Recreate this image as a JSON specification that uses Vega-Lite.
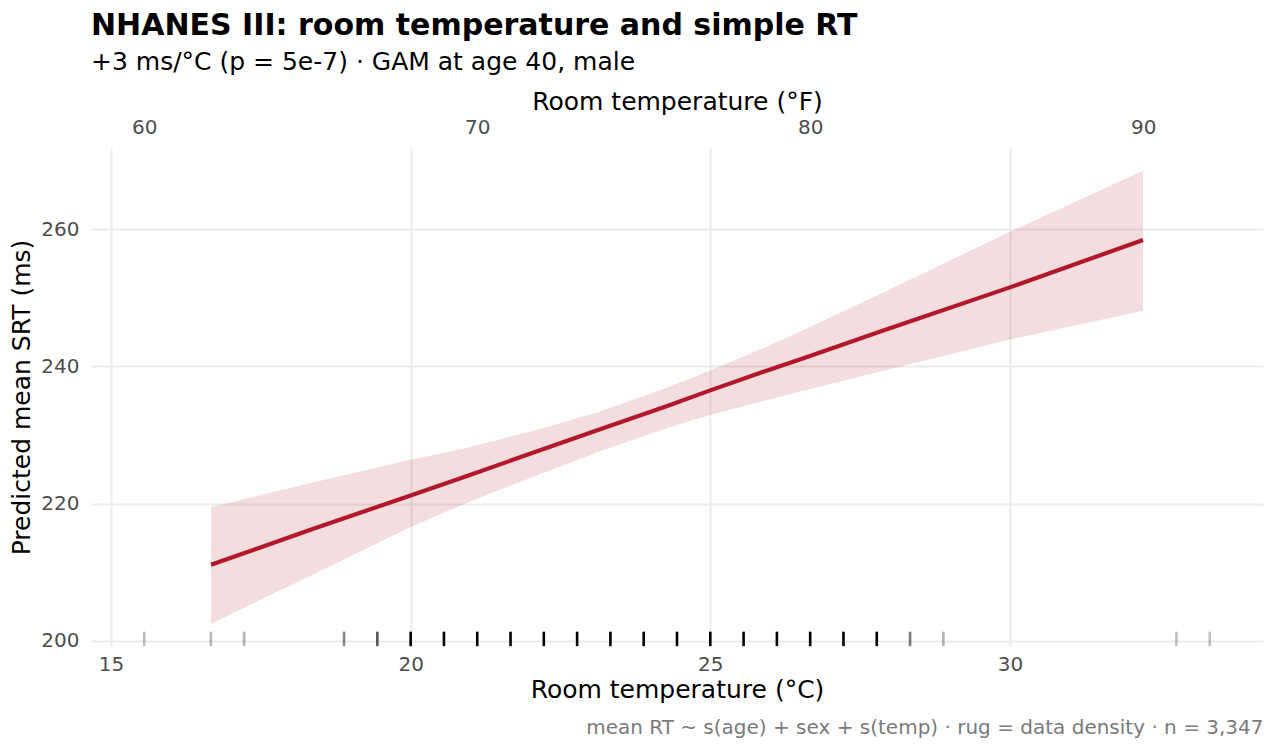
{
  "$schema": "https://vega.github.io/schema/vega-lite/v6.json",
  "background": "white",
  "autosize": "none",
  "width": 1172,
  "height": 498,
  "padding": {"left": 91, "top": 148, "right": 12, "bottom": 104},
  "title": {
    "text": "NHANES III: room temperature and simple RT",
    "subtitle": "+3 ms/°C (p = 5e-7) · GAM at age 40, male",
    "anchor": "start",
    "frame": "group",
    "font": "DejaVu Sans",
    "fontSize": 30,
    "fontWeight": "bold",
    "color": "black",
    "subtitleFont": "DejaVu Sans",
    "subtitleFontSize": 25,
    "subtitleColor": "black",
    "subtitlePadding": 9,
    "offset": 14
  },
  "datasets": {
    "fit": [
      {"C": 16.67, "fit": 211.1, "lo": 202.5, "hi": 219.5},
      {"C": 18.33, "fit": 216.2, "lo": 209.5, "hi": 223.0},
      {"C": 20.0, "fit": 221.2, "lo": 216.6, "hi": 226.4},
      {"C": 20.93, "fit": 224.0, "lo": 220.1, "hi": 228.1},
      {"C": 22.04, "fit": 227.4, "lo": 223.9, "hi": 230.6},
      {"C": 23.15, "fit": 230.8, "lo": 227.6, "hi": 233.4},
      {"C": 24.27, "fit": 234.2, "lo": 231.0, "hi": 236.9},
      {"C": 25.0, "fit": 236.5, "lo": 232.9, "hi": 239.4},
      {"C": 25.95, "fit": 239.4, "lo": 235.1, "hi": 242.9},
      {"C": 26.53, "fit": 241.1, "lo": 236.4, "hi": 245.2},
      {"C": 27.85, "fit": 245.1, "lo": 239.3, "hi": 250.6},
      {"C": 30.0, "fit": 251.5, "lo": 243.9, "hi": 259.6},
      {"C": 32.22, "fit": 258.4, "lo": 248.1, "hi": 268.5}
    ],
    "rug": [
      {"F": 60, "n": 4},
      {"F": 62, "n": 5},
      {"F": 63, "n": 7},
      {"F": 66, "n": 25},
      {"F": 67, "n": 45},
      {"F": 68, "n": 90},
      {"F": 69, "n": 150},
      {"F": 70, "n": 210},
      {"F": 71, "n": 260},
      {"F": 72, "n": 290},
      {"F": 73, "n": 310},
      {"F": 74, "n": 320},
      {"F": 75, "n": 310},
      {"F": 76, "n": 290},
      {"F": 77, "n": 260},
      {"F": 78, "n": 220},
      {"F": 79, "n": 180},
      {"F": 80, "n": 140},
      {"F": 81, "n": 108},
      {"F": 82, "n": 80},
      {"F": 83, "n": 30},
      {"F": 84, "n": 8},
      {"F": 91, "n": 3},
      {"F": 92, "n": 2}
    ]
  },
  "layer": [
    {
      "data": {"name": "fit"},
      "mark": {"type": "area", "color": "#B2182B", "opacity": 0.15},
      "encoding": {
        "x": {
          "field": "C",
          "type": "quantitative",
          "scale": {"domain": [14.667, 34.222], "nice": false, "zero": false},
          "axis": {
            "orient": "bottom",
            "title": "Room temperature (°C)",
            "values": [15, 20, 25, 30],
            "grid": true,
            "labelPadding": 8,
            "titlePadding": 3
          }
        },
        "y": {
          "field": "lo",
          "type": "quantitative",
          "scale": {"domain": [199.27, 271.8], "nice": false, "zero": false},
          "axis": {
            "title": "Predicted mean SRT (ms)",
            "values": [200, 220, 240, 260],
            "grid": true,
            "labelPadding": 12,
            "titlePadding": 6
          }
        },
        "y2": {"field": "hi"}
      }
    },
    {
      "data": {"name": "fit"},
      "mark": {"type": "line", "color": "#B2182B", "strokeWidth": 4.2},
      "encoding": {
        "x": {
          "field": "C",
          "type": "quantitative",
          "scale": {"domain": [14.667, 34.222], "nice": false, "zero": false},
          "axis": {
            "orient": "bottom",
            "offset": 66,
            "title": "mean RT ~ s(age) + sex + s(temp) · rug = data density · n = 3,347",
            "titleAnchor": "end",
            "titleFontSize": 20,
            "titleColor": "#7a7a7a",
            "labels": false,
            "grid": false,
            "titlePadding": 5
          }
        },
        "y": {"field": "fit", "type": "quantitative", "title": "Predicted mean SRT (ms)"}
      }
    },
    {
      "data": {"name": "rug"},
      "mark": {"type": "tick", "color": "black", "thickness": 2.6, "size": 14.5},
      "encoding": {
        "x": {
          "field": "F",
          "type": "quantitative",
          "scale": {"domain": [58.4, 93.6], "nice": false, "zero": false},
          "axis": {
            "orient": "top",
            "title": "Room temperature (°F)",
            "values": [60, 70, 80, 90],
            "grid": false,
            "labelPadding": 11,
            "titlePadding": 3
          }
        },
        "y": {"datum": 200.3, "type": "quantitative", "title": "Predicted mean SRT (ms)"},
        "opacity": {
          "field": "n",
          "type": "quantitative",
          "scale": {"domain": [0, 80], "range": [0.22, 1], "clamp": true},
          "legend": null
        }
      }
    }
  ],
  "resolve": {"scale": {"x": "independent"}, "axis": {"x": "independent"}},
  "config": {
    "view": {"stroke": null},
    "axis": {
      "labelFont": "DejaVu Sans",
      "labelFontSize": 20,
      "labelColor": "#4d4d4d",
      "titleFont": "DejaVu Sans",
      "titleFontSize": 25,
      "titleFontWeight": "normal",
      "titleColor": "black",
      "domain": false,
      "ticks": false,
      "tickSize": 0,
      "gridColor": "#ebebeb",
      "gridWidth": 2
    }
  }
}
